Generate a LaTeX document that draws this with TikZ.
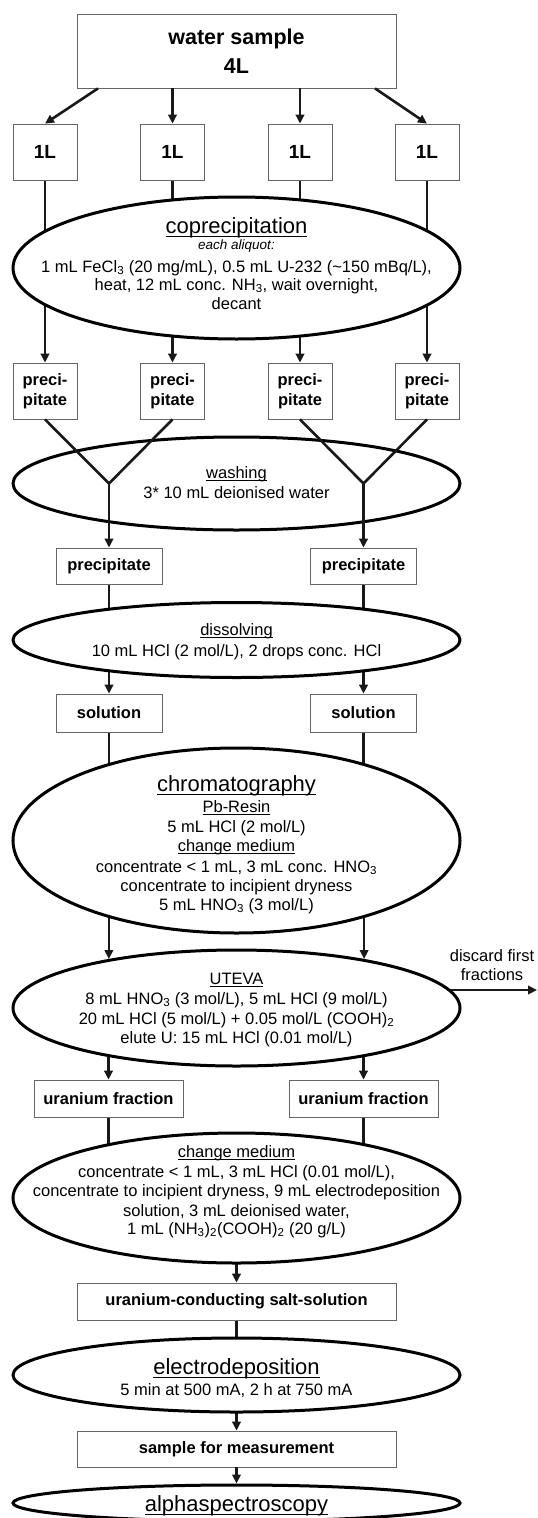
\documentclass[tikz,border=0pt]{standalone}
\usepackage{fontspec}
\setmainfont{Liberation Sans}
\usetikzlibrary{arrows.meta,shapes.geometric}
\pgfdeclarelayer{bg}
\pgfsetlayers{bg,main}
\newcommand{\myul}[1]{\setbox0\hbox{#1}\rlap{\rule[-0.2em]{\wd0}{0.065em}}\box0}
\tikzset{
 box/.style={draw=black!60, line width=0.8pt, fill=white, font=\bfseries\fontsize{16.5}{20}\selectfont, align=center, inner sep=0pt},
 proc/.style={ellipse, draw=black, line width=3pt, fill=white, inner sep=0pt, minimum width=447pt},
 con/.style={line width=2.6pt, draw=black!90},
 arr/.style={con, -{Triangle[length=9pt,width=8.5pt]}},
 txt/.style={anchor=base, inner sep=0pt, font=\fontsize{16.5}{19}\selectfont},
 ttl/.style={anchor=base, inner sep=0pt, font=\fontsize{22}{26}\selectfont},
}
\begin{document}
\begin{tikzpicture}[x=1pt,y=-1pt]
\useasboundingbox (0,0) rectangle (538,1518);
% boxes
\node[box, minimum width=319pt, minimum height=74pt, font=\bfseries\fontsize{21.5}{29}\selectfont] (ws) at (236.5,51) {water sample\\4L};
\foreach \n/\x in {l1/45,l2/172.5,l3/300,l4/427}{
  \node[box, minimum width=64pt, minimum height=56pt, font=\bfseries\fontsize{19}{22}\selectfont] (\n) at (\x,152) {1L};
  }
\foreach \n/\x in {p1/45,p2/172.5,p3/300,p4/427}{
  \node[box, minimum width=64pt, minimum height=56pt] (\n) at (\x,391) {preci-\\pitate};
  }
\node[box, minimum width=106pt, minimum height=36pt] (q1) at (109,566) {precipitate};
\node[box, minimum width=106pt, minimum height=36pt] (q2) at (363.5,566) {precipitate};
\node[box, minimum width=106pt, minimum height=38pt] (s1) at (109,713) {solution};
\node[box, minimum width=106pt, minimum height=38pt] (s2) at (363.5,713) {solution};
\node[box, minimum width=149pt, minimum height=37pt] (u1) at (108.5,1098.5) {uranium fraction};
\node[box, minimum width=149pt, minimum height=37pt] (u2) at (363.5,1098.5) {uranium fraction};
\node[box, minimum width=319pt, minimum height=37pt] (salt) at (236.5,1301.5) {uranium-conducting salt-solution};
\node[box, minimum width=319pt, minimum height=36pt] (meas) at (236.5,1449) {sample for measurement};
% process ellipses
\node[proc, minimum height=142pt] (cop) at (236.5,268) {};
\node[proc, minimum height=93pt] (wash) at (236.5,483.5) {};
\node[proc, minimum height=75pt] (diss) at (236.5,640) {};
\node[proc, minimum height=185pt] (ch) at (236.5,840.5) {};
\node[proc, minimum height=116pt] (ut) at (236.5,1008) {};
\node[proc, minimum height=130pt] (cm) at (236.5,1198) {};
\node[proc, minimum height=74pt] (el) at (236.5,1375) {};
\node[proc, minimum height=36pt] (al) at (236.5,1503) {};
\coordinate (dis) at (537,990);
% connectors hidden partly behind the ellipses
\begin{pgfonlayer}{bg}
 \foreach \n in {l1,l2,l3,l4}{\draw[con] (\n.south) -- (\n.south |- cop.center);}
 \foreach \n in {p1,p2,p3,p4}{\draw[arr] (\n.north |- cop.center) -- (\n.north);}
 \foreach \n in {q1,q2}{\draw[con] (\n.south) -- (\n.south |- diss.center);}
 \foreach \n in {s1,s2}{\draw[arr] (\n.north |- diss.center) -- (\n.north);
   \draw[con] (\n.south) -- (\n.south |- ch.center);}
 \draw[arr] (ut.159 |- ch.center) -- (ut.159);
 \draw[arr] (ut.21 |- ch.center) -- (ut.21);
 \foreach \n in {u1,u2}{\draw[arr] (\n.north |- ut.center) -- (\n.north);
   \draw[con] (\n.south) -- (\n.south |- cm.center);}
 \draw[arr] (cm.center) -- (salt.north);
 \draw[con] (salt.south) -- (el.center);
 \draw[arr] (el.center) -- (meas.north);
 \draw[arr] (ut.center |- dis) -- (dis);
\end{pgfonlayer}
% top arrows
\draw[arr] ([xshift=-138.5pt]ws.south) -- (l1.north);
\draw[arr] (ws.south -| l2.north) -- (l2.north);
\draw[arr] (ws.south -| l3.north) -- (l3.north);
\draw[arr] ([xshift=138.5pt]ws.south) -- (l4.north);
% merging lines over washing
\coordinate (vL) at (q1.north |- wash.center);
\coordinate (vR) at (q2.north |- wash.center);
\draw[con] (p1.south) -- (vL) -- (p2.south);
\draw[con] (p3.south) -- (vR) -- (p4.south);
\draw[arr] (vL) -- (q1.north);
\draw[arr] (vR) -- (q2.north);
\draw[arr] (meas.south) -- (al.north);
% texts
\node[ttl] (c1) at (236.5,233) {\myul{coprecipitation}};
\node[txt, font=\itshape\fontsize{13.5}{16}\selectfont] (c2) at (236.5,249) {each aliquot:};
\node[txt] (c3) at (236.5,272) {1 mL FeCl\textsubscript{3} (20 mg/mL), 0.5 mL U-232 (\textasciitilde150 mBq/L),};
\node[txt] (c4) at (236.5,290) {heat, 12 mL conc. NH\textsubscript{3}, wait overnight,};
\node[txt] (c5) at (236.5,309) {decant};
\node[txt] (w1) at (236.5,478) {\myul{washing}};
\node[txt] (w2) at (236.5,498) {3* 10 mL deionised water};
\node[txt] (ds1) at (236.5,635) {\myul{dissolving}};
\node[txt] (ds2) at (236.5,656) {10 mL HCl (2 mol/L), 2 drops conc. HCl};
\node[ttl] (h1) at (236.5,791) {\myul{chromatography}};
\node[txt] (h2) at (236.5,812) {\myul{Pb-Resin}};
\node[txt] (h3) at (236.5,832) {5 mL HCl (2 mol/L)};
\node[txt] (h4) at (236.5,851) {\myul{change medium}};
\node[txt] (h5) at (236.5,872) {concentrate < 1 mL, 3 mL conc. HNO\textsubscript{3}};
\node[txt] (h6) at (236.5,891) {concentrate to incipient dryness};
\node[txt] (h7) at (236.5,910) {5 mL HNO\textsubscript{3} (3 mol/L)};
\node[txt] (v1) at (236.5,984) {\myul{UTEVA}};
\node[txt] (v2) at (236.5,1004) {8 mL HNO\textsubscript{3} (3 mol/L), 5 mL HCl (9 mol/L)};
\node[txt] (v3) at (236.5,1024) {20 mL HCl (5 mol/L) + 0.05 mol/L (COOH)\textsubscript{2}};
\node[txt] (v4) at (236.5,1043) {elute U: 15 mL HCl (0.01 mol/L)};
\node[txt] (m1) at (236.5,1157) {\myul{change medium}};
\node[txt] (m2) at (236.5,1177) {concentrate < 1 mL, 3 mL HCl (0.01 mol/L),};
\node[txt] (m3) at (236.5,1196) {concentrate to incipient dryness, 9 mL electrodeposition};
\node[txt] (m4) at (236.5,1216) {solution, 3 mL deionised water,};
\node[txt] (m5) at (236.5,1234) {1 mL (NH\textsubscript{3})\textsubscript{2}(COOH)\textsubscript{2} (20 g/L)};
\node[ttl] (e1) at (236.5,1374) {\myul{electrodeposition}};
\node[txt] (e2) at (236.5,1395) {5 min at 500 mA, 2 h at 750 mA};
\node[ttl] (a1) at (236.5,1511) {\myul{alphaspectroscopy}};
\node[txt] (d1) at (492,961) {discard first};
\node[txt] (d2) at (492,980) {fractions};
\end{tikzpicture}
\end{document}
